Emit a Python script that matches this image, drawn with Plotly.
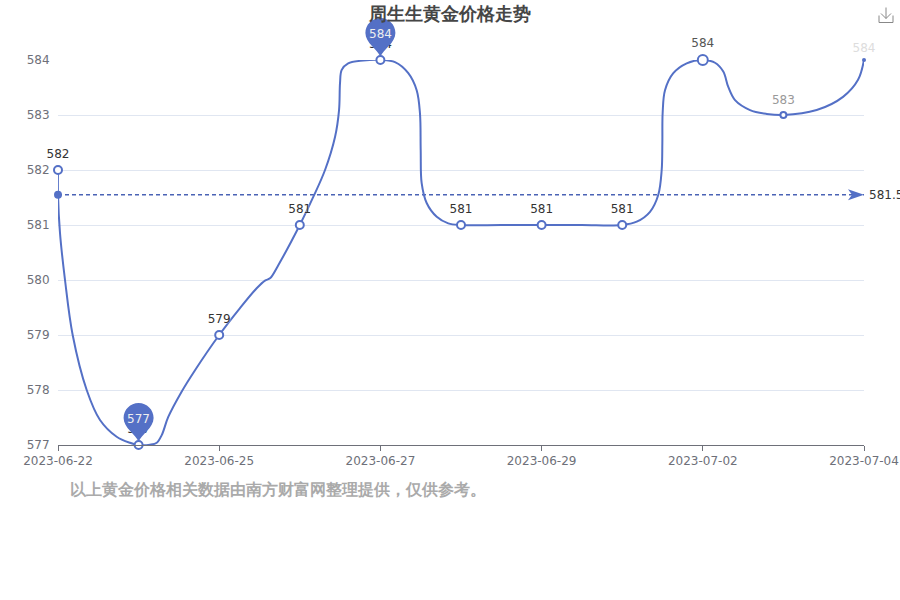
import plotly.graph_objects as go

# Dates on the axis (only every second label is shown in the chart)
dates = ["2023-06-22", "2023-06-23", "2023-06-25", "2023-06-26", "2023-06-27", "2023-06-28",
         "2023-06-29", "2023-06-30", "2023-07-02", "2023-07-03", "2023-07-04"]
prices = [582, 577, 579, 581, 584, 581, 581, 581, 584, 583, 584]
mean_price = 581.55
extreme_idx = [1, 4]
y_ticks = [577, 578, 579, 580, 581, 582, 583, 584]

# Path of the drawn line (position in categories, price)
curve_pos = [0, 0, .025, .087, .182, .356, .521, .728, .893, 1, 1.141, 1.225, 1.287, 1.368, 1.53,
             1.70, 2, 2.258, 2.465, 2.568, 2.63, 2.733, 3, 3.167, 3.313, 3.437, 3.487, 3.499, 3.52,
             3.60, 3.788, 4, 4.181, 4.346, 4.45, 4.491, 4.50, 4.512, 4.574, 4.699, 4.842, 5, 5.5, 6, 6.5,
             7, 7.18, 7.345, 7.448, 7.49, 7.498, 7.502, 7.531, 7.634, 7.80, 8, 8.151, 8.254, 8.316, 8.40,
             8.586, 8.793, 9, 9.413, 9.74, 9.926, 10]
curve_val = [582, 581.55, 580.85, 580.0, 579.0, 578.0, 577.455, 577.15, 577.04, 577, 577.005,
             577.04, 577.18, 577.51, 577.96, 578.36, 579, 579.49, 579.85, 579.99, 580.03, 580.27, 581,
             581.51, 582, 582.6, 583.09, 583.58, 583.82, 583.94, 583.99, 584, 583.96, 583.76, 583.45,
             583.03, 582.36, 581.76, 581.4, 581.15, 581.03, 581, 581, 581, 581, 581, 581.06, 581.24, 581.55,
             582, 582.49, 583.04, 583.45, 583.76, 583.94, 584, 583.95, 583.79, 583.51, 583.27, 583.09,
             583.02, 583, 583.09, 583.33, 583.64, 584]

BLUE = "#5470C6"
GREY = "#6E7079"
label_colors = ["#333"] * 8 + ["#555", "#999", "#ddd"]
marker_sizes = [8, 8, 8, 8, 8, 8, 8, 8, 10, 6, 4]
marker_lines = [2] * 10 + [0]
marker_fill = ["#fff"] * 10 + [BLUE]
label_gap_sizes = [13] * 8 + [15, 11, 7]
positions = list(range(len(dates)))
x_range = [0, 10]
y_range = [577, 584]


def paper_x(v):
    return (v - x_range[0]) / (x_range[1] - x_range[0])


def paper_y(v):
    return (v - y_range[0]) / (y_range[1] - y_range[0])


fig = go.Figure()
fig.add_trace(go.Scatter(x=x_range, y=[mean_price, mean_price], mode="lines",
                         line=dict(color="#4a63b5", width=1.4, dash="4px,3px"), cliponaxis=False, hoverinfo="skip"))
fig.add_trace(go.Scatter(x=[0], y=[mean_price], mode="markers",
                         marker=dict(color=BLUE, size=8), cliponaxis=False, hoverinfo="skip"))
fig.add_trace(go.Scatter(x=curve_pos, y=curve_val, mode="lines",
                         line=dict(color=BLUE, width=2, shape="spline", smoothing=1.0),
                         cliponaxis=False, hoverinfo="skip"))
fig.add_trace(go.Scatter(x=positions, y=prices, mode="markers",
                         marker=dict(size=marker_sizes, color=marker_fill, opacity=1,
                                     line=dict(color=BLUE, width=marker_lines)),
                         cliponaxis=False))
fig.add_trace(go.Scatter(x=positions, y=prices, mode="markers+text", text=[str(p) for p in prices],
                         textposition="top center",
                         textfont=dict(family="DejaVu Sans", size=12, color=label_colors, shadow="0 0 2px #fff"),
                         marker=dict(size=label_gap_sizes, color="rgba(0,0,0,0)", line=dict(width=0)),
                         cliponaxis=False, hoverinfo="skip"))

PIN = "M 0 3 C -3 11 -15 17 -15 27 C -15 35.3 -8.3 42 0 42 C 8.3 42 15 35.3 15 27 C 15 17 3 11 0 3 Z"
shapes = []
annotations = []
for i in extreme_idx:
    shapes.append(dict(type="path", layer="above", xref="paper", yref="paper", xsizemode="pixel", ysizemode="pixel",
                       xanchor=paper_x(i), yanchor=paper_y(prices[i]), path=PIN, fillcolor=BLUE, line=dict(width=0)))
shapes.append(dict(type="path", layer="above", xref="paper", yref="paper", xsizemode="pixel", ysizemode="pixel",
                   xanchor=paper_x(10), yanchor=paper_y(mean_price), path="M 0 0 L -16 5.5 L -12 0 L -16 -5.5 Z",
                   fillcolor=BLUE, line=dict(width=0)))

# Download icon (toolbox)
for path in ["M -7 7 L -7 0 L 7 0 L 7 7", "M 0 15 L 0 4", "M -5 9 L 0 4 L 5 9"]:
    shapes.append(dict(type="path", xref="paper", yref="paper", xsizemode="pixel", ysizemode="pixel",
                       xanchor=(886 - 58) / 806, yanchor=1 + (60 - 22.5) / 385, path=path,
                       line=dict(color="#888", width=1), layer="above"))

annotations.append(dict(xref="paper", yref="paper", x=(449 - 58) / 806, y=1 + (60 - 14) / 385, showarrow=False,
                        text="<b>周生生黄金价格走势</b>", yanchor="middle", xanchor="center",
                        font=dict(family="DejaVu Sans", size=18, color="#464646")))
annotations.append(dict(xref="paper", yref="paper", x=(68 - 58) / 806, y=-(489 - 445) / 385, showarrow=False,
                        xanchor="left", yanchor="middle", text="<b>以上黄金价格相关数据由南方财富网整理提供，仅供参考。</b>",
                        font=dict(family="DejaVu Sans", size=16, color="#aaa")))
for i in extreme_idx:
    annotations.append(dict(x=paper_x(i), y=paper_y(prices[i]), xref="paper", yref="paper", text=str(prices[i]),
                            showarrow=False, yshift=26, xanchor="center", yanchor="middle",
                            font=dict(family="DejaVu Sans", size=12, color="#eee")))
annotations.append(dict(x=paper_x(10), y=paper_y(mean_price), xref="paper", yref="paper", text=str(mean_price),
                        showarrow=False, xanchor="left", yanchor="middle", xshift=3,
                        font=dict(family="DejaVu Sans", size=12, color="#333")))

fig.update_layout(
    width=900, height=600, autosize=False, showlegend=False,
    plot_bgcolor="#fff", paper_bgcolor="#fff",
    margin=dict(l=58, r=36, t=60, b=155, autoexpand=False),
    shapes=shapes, annotations=annotations,
    xaxis=dict(range=x_range, tickvals=positions[::2], ticktext=dates[::2], showgrid=False, zeroline=False,
               showline=True, linecolor=GREY, linewidth=1, ticks="outside", ticklen=5, tickcolor=GREY,
               tickfont=dict(family="DejaVu Sans", size=12, color=GREY), tickangle=0),
    yaxis=dict(range=y_range, tickvals=y_ticks, showgrid=True, gridcolor="#E0E6F1", gridwidth=1,
               zeroline=False, showline=False, ticks="outside", ticklen=5, tickcolor="rgba(0,0,0,0)",
               tickfont=dict(family="DejaVu Sans", size=12, color=GREY)),
)
fig.write_html("out.html", config=dict(displayModeBar=False), default_width="900px", default_height="600px",
               post_script="document.body.style.margin='0';")
